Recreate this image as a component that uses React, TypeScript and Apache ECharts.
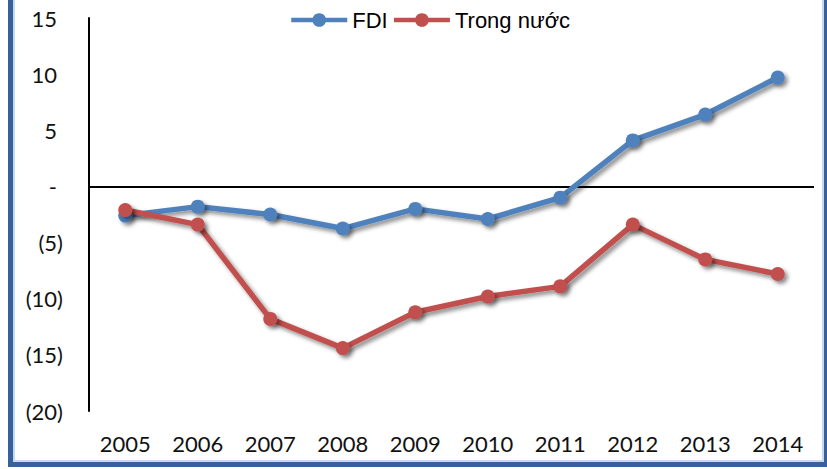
import React, { useEffect, useRef } from "react";
import * as echarts from "echarts";

const years = ["2005", "2006", "2007", "2008", "2009", "2010", "2011", "2012", "2013", "2014"];
const fdi = [-2.6, -1.8, -2.5, -3.75, -2.0, -2.9, -1.0, 4.1, 6.4, 9.7];
const trongNuoc = [-2.1, -3.4, -11.8, -14.4, -11.2, -9.8, -8.9, -3.4, -6.5, -7.8];
const seriesNames = ["FDI", "Trong nước"];

const BLUE = "#4F81BD";
const RED = "#C0504D";
const DARK = "#37619A";
const LIGHT = "#C6D9F1";

export default function App() {
  const ref = useRef<HTMLDivElement>(null);
  useEffect(() => {
    if (!ref.current) return;
    const chart = echarts.init(ref.current, null, { renderer: "svg" });
    const shadow = {
      shadowColor: "rgba(0,0,0,0.45)",
      shadowBlur: 4,
      shadowOffsetX: 3,
      shadowOffsetY: 3,
    };
    const mkSeries = (name: string, data: number[], color: string, withZero: boolean) => ({
      name,
      type: "line",
      data,
      symbol: "circle",
      symbolSize: 14,
      color,
      lineStyle: { width: 5.5, color, ...shadow },
      itemStyle: { color, ...shadow },
      z: 3,
      markLine: withZero
        ? {
            silent: true,
            symbol: "none",
            label: { show: false },
            lineStyle: { color: "#000", width: 2, type: "solid", shadowBlur: 0 },
            data: [{ yAxis: 0 }],
            z: 1,
          }
        : undefined,
    });
    chart.setOption({
      animation: false,
      backgroundColor: "#fff",
      legend: {
        left: 284,
        top: 4,
        itemWidth: 56,
        itemHeight: 17,
        itemGap: 4,
        lineStyle: { width: 4.5, shadowBlur: 0, shadowOffsetX: 0, shadowOffsetY: 0 },
        itemStyle: { shadowBlur: 0, shadowOffsetX: 0, shadowOffsetY: 0 },
        textStyle: { fontFamily: "Liberation Sans", fontSize: 22, color: "#000" },
        data: seriesNames,
      },
      grid: { left: 89, right: 13, top: 18, bottom: 58 },
      xAxis: {
        type: "category",
        data: years,
        boundaryGap: true,
        axisLine: { show: false },
        axisTick: { show: false },
        axisLabel: { fontFamily: "Lato", fontSize: 22, color: "#111", margin: 21 },
        splitLine: { show: false },
      },
      yAxis: {
        type: "value",
        min: -20,
        max: 15,
        interval: 5,
        axisLine: { show: true, lineStyle: { color: "#000", width: 2 } },
        axisTick: { show: false },
        splitLine: { show: false },
        axisLabel: {
          margin: 26,
          formatter: (v: number) => {
            if (v < 0) return `{n|(${-v})}`;
            if (v === 0) return `{p|-}`;
            return `{p|${v}}`;
          },
          rich: {
            n: { fontFamily: "Lato", fontSize: 22, color: "#111" },
            p: { fontFamily: "Lato", fontSize: 22, color: "#111", padding: [0, 6, 0, 0] },
          },
        },
      },
      series: [
        mkSeries(seriesNames[0], fdi, BLUE, true),
        mkSeries(seriesNames[1], trongNuoc, RED, false),
      ],
      graphic: [
        { type: "rect", shape: { x: 13, y: 0, width: 2, height: 462 }, style: { fill: LIGHT }, silent: true },
        { type: "rect", shape: { x: 13, y: 460, width: 811, height: 2 }, style: { fill: LIGHT }, silent: true },
        { type: "rect", shape: { x: 822, y: 0, width: 2, height: 462 }, style: { fill: LIGHT }, silent: true },
        { type: "rect", shape: { x: 8, y: 0, width: 5, height: 467 }, style: { fill: DARK }, silent: true },
        { type: "rect", shape: { x: 8, y: 462, width: 819, height: 5 }, style: { fill: DARK }, silent: true },
        { type: "rect", shape: { x: 824, y: 0, width: 3, height: 467 }, style: { fill: DARK }, silent: true },
      ],
    });
    return () => chart.dispose();
  }, []);
  return (
    <div
      ref={ref}
      style={{ position: "absolute", left: 0, top: 0, width: 827, height: 469 }}
    />
  );
}
